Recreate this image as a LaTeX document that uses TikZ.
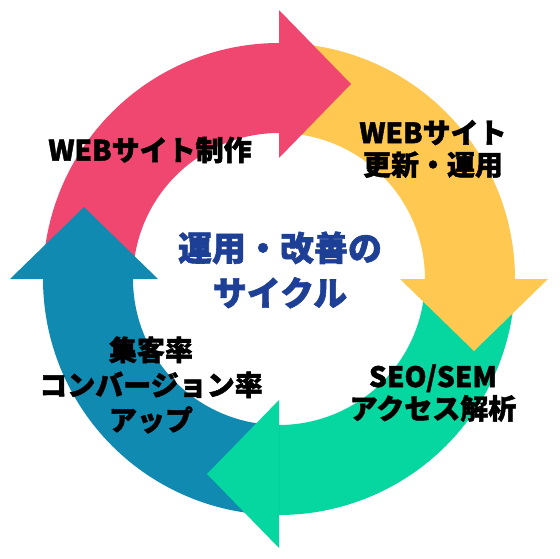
\documentclass[tikz,border=0pt]{standalone}
\usepackage{fontspec}
\newfontfamily\jp{Noto Sans CJK JP}[BoldFeatures={FakeBold=1.6}]
\definecolor{cRed}{HTML}{EF476F}
\definecolor{cYel}{HTML}{FFC850}
\definecolor{cGrn}{HTML}{06D6A0}
\definecolor{cBlu}{HTML}{118AB2}
\definecolor{cTxt}{HTML}{1E3F96}
\tikzset{
  lbl/.style={align=center, text=black, font=\jp\bfseries\fontsize{28}{32}\selectfont, inner sep=0pt},
  ctr/.style={align=center, text=cTxt, font=\jp\bfseries\fontsize{34}{45}\selectfont, inner sep=0pt}
}
\begin{document}
\begin{tikzpicture}[x=1pt,y=1pt]
\useasboundingbox (0,0) rectangle (560,558);
\fill[white] (0,0) rectangle (560,558);
\begin{scope}[shift={(279,279)}]
  % ring bodies
  \fill[cRed] (180:236) arc[start angle=180,end angle=89,radius=236] -- (89:146) arc[start angle=89,end angle=180,radius=146] -- cycle;
  \fill[cYel] (90:236) arc[start angle=90,end angle=-1,radius=236] -- (-1:146) arc[start angle=-1,end angle=90,radius=146] -- cycle;
  \fill[cGrn] (0:236) arc[start angle=0,end angle=-91,radius=236] -- (-91:146) arc[start angle=-91,end angle=0,radius=146] -- cycle;
  \fill[cBlu] (-90:236) arc[start angle=-90,end angle=-181,radius=236] -- (-181:146) arc[start angle=-181,end angle=-90,radius=146] -- cycle;
  % arrow heads
  \fill[cRed] (0,121) -- (0,269) -- (72,195) -- cycle;
  \fill[cYel] (121,0) -- (269,0) -- (195,-72) -- cycle;
  \fill[cGrn] (0,-121) -- (0,-269) -- (-72,-195) -- cycle;
  \fill[cBlu] (-121,0) -- (-269,0) -- (-195,72) -- cycle;
\end{scope}
\node[lbl] (l1) at (150,408) {WEBサイト制作};
\node[lbl] (l2) at (433,409) {WEBサイト\\更新・運用};
\node[lbl, font=\jp\bfseries\fontsize{28}{35}\selectfont] (l3) at (151,173) {集客率\\コンバージョン率\\アップ};
\node[lbl] (l4) at (433,165) {SEO/SEM\\アクセス解析};
\node[ctr] (c) at (280,288) {運用・改善の\\サイクル};
\end{tikzpicture}
\end{document}
